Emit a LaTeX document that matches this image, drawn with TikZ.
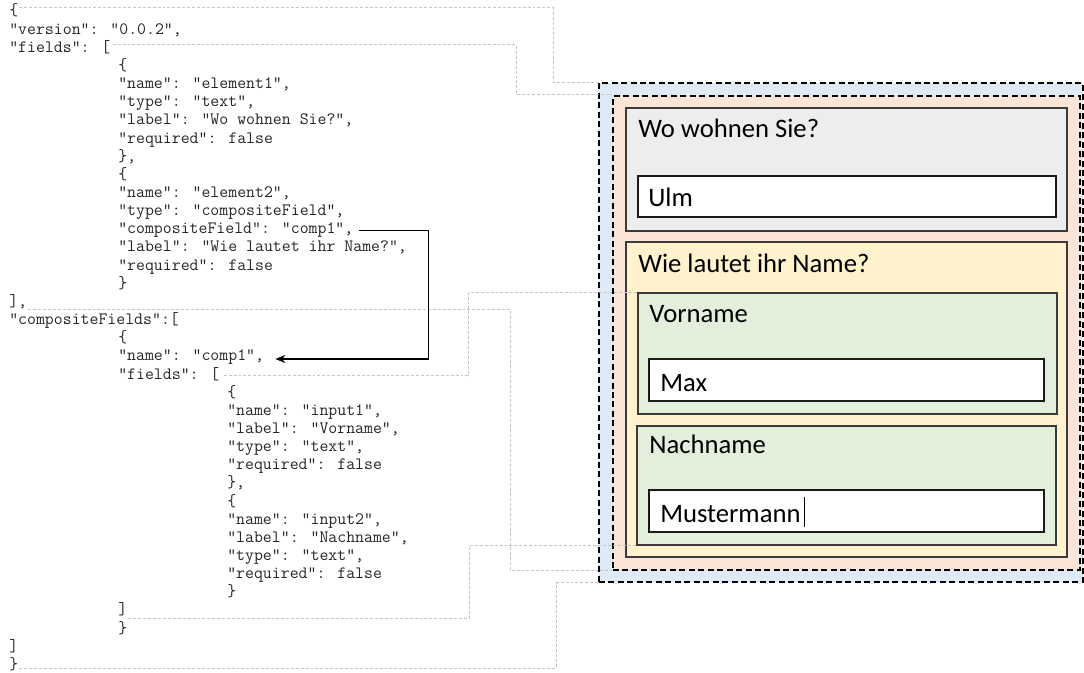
\documentclass[tikz,border=0pt]{standalone}
\usepackage{fontspec}
\setmainfont{Carlito}
\newfontfamily\formfont{Carlito}
\usetikzlibrary{arrows.meta,calc,fit}

\definecolor{formblue}{HTML}{DEEBF7}
\definecolor{areaorange}{HTML}{FBE5D6}
\definecolor{panelgray}{HTML}{EDEDED}
\definecolor{panelyellow}{HTML}{FFF2CC}
\definecolor{panelgreen}{HTML}{E2EFDA}
\definecolor{guidegray}{HTML}{C4C4C4}
\definecolor{edgedark}{HTML}{3A3A3A}

\tikzset{
  code/.style={anchor=base west, inner sep=0pt, text height=7pt, text depth=2pt,
    font=\ttfamily\fontsize{13pt}{15pt}\selectfont, text=black!85},
  formtext/.style={anchor=base west, inner sep=0pt,
    font=\formfont\fontsize{20pt}{24pt}\selectfont},
  dashedbox/.style={draw=black, line width=1.1pt, dash pattern=on 4.5pt off 2.6pt, inner sep=0pt},
  panel/.style={draw=edgedark, line width=1.1pt, inner sep=0pt},
  inputbox/.style={draw=black!90, fill=white, line width=1.3pt, inner sep=0pt},
  guide/.style={draw=guidegray, line width=0.75pt, dash pattern=on 2.2pt off 1.5pt},
  link/.style={draw=black, line width=1.1pt, -{Stealth[length=7.5pt,width=6pt]}},
}

% one line of the JSON listing: #1 line number, #2 indent level, #3 text
\newcommand\jsonline[3]{%
  \node[code] (L#1) at ({9+#2*109}, {16+(#1-1)*18.15}) {#3};}

\begin{document}
\begin{tikzpicture}[x=0.75pt, y=-0.75pt]
\useasboundingbox (0,0) rectangle (1084,673);

% ---- JSON definition ----
\jsonline{1}{0}{\{}
\jsonline{2}{0}{"version": "0.0.2",}
\jsonline{3}{0}{"fields": [}
\jsonline{4}{1}{\{}
\jsonline{5}{1}{"name": "element1",}
\jsonline{6}{1}{"type": "text",}
\jsonline{7}{1}{"label": "Wo wohnen Sie?",}
\jsonline{8}{1}{"required": false}
\jsonline{9}{1}{\},}
\jsonline{10}{1}{\{}
\jsonline{11}{1}{"name": "element2",}
\jsonline{12}{1}{"type": "compositeField",}
\jsonline{13}{1}{"compositeField": "comp1",}
\jsonline{14}{1}{"label": "Wie lautet ihr Name?",}
\jsonline{15}{1}{"required": false}
\jsonline{16}{1}{\}}
\jsonline{17}{0}{],}
\jsonline{18}{0}{"compositeFields":[}
\jsonline{19}{1}{\{}
\jsonline{20}{1}{"name": "comp1",}
\jsonline{21}{1}{"fields": [}
\jsonline{22}{2}{\{}
\jsonline{23}{2}{"name": "input1",}
\jsonline{24}{2}{"label": "Vorname",}
\jsonline{25}{2}{"type": "text",}
\jsonline{26}{2}{"required": false}
\jsonline{27}{2}{\},}
\jsonline{28}{2}{\{}
\jsonline{29}{2}{"name": "input2",}
\jsonline{30}{2}{"label": "Nachname",}
\jsonline{31}{2}{"type": "text",}
\jsonline{32}{2}{"required": false}
\jsonline{33}{2}{\}}
\jsonline{34}{1}{]}
\jsonline{35}{1}{\}}
\jsonline{36}{0}{]}
\jsonline{37}{0}{\}}

% ---- rendered form ----
\node[dashedbox, fill=formblue, fit={(599,83)(1083,582)}] (form) {};
\node[dashedbox, fill=areaorange, fit={(613,96)(1080,570)}] (area) {};

\node[panel, fill=panelgray, fit={(626,108)(1067,231)}] (wohnort) {};
\node[formtext] (qwohnort) at (638,138) {Wo wohnen Sie?};
\node[inputbox, fit={(638,176)(1056,217)}] (inwohnort) {};
\node[formtext] (vwohnort) at (648,207) {Ulm};

\node[panel, fill=panelyellow, fit={(626,242)(1067,557)}] (name) {};
\node[formtext] (qname) at (638,273) {Wie lautet ihr Name?};

\node[panel, fill=panelgreen, fit={(638,293)(1057,414)}] (vorname) {};
\node[formtext] (qvorname) at (649,323) {Vorname};
\node[inputbox, fit={(649,359)(1044,401)}] (invorname) {};
\node[formtext] (vvorname) at (660,391) {Max};

\node[panel, fill=panelgreen, fit={(637,426)(1056,545)}] (nachname) {};
\node[formtext] (qnachname) at (649,453) {Nachname};
\node[inputbox, fit={(649,490)(1044,532)}] (innachname) {};
\node[formtext] (vnachname) at (660,522) {Mustermann};
% text caret
\draw[line width=0.8pt] ($(vnachname.base east)+(4,5)$) -- ++(0,-30);

% ---- guides from the listing to the form ----
\draw[guide] ($(L1.east)+(1,-4.7)$) -| ($(form.north west)+(-45,0)$) -- (form.north west);
\draw[guide] ($(L3.east)+(2,-4)$) -| ($(area.north west)+(-96,-1)$) -- ($(area.north west)+(0,-1)$);
\draw[guide] ($(L17.east)+(1,6)$) -| ($(area.south west)+(-102,0)$) -- (area.south west);
\draw[guide] ($(L37.east)+(1,2)$) -| ($(form.south west)+(-42,0)$) -- (form.south west);
\draw[guide] ($(L21.east)+(4,0)$) -| ($(vorname.north west)+(-169,0)$) -- (vorname.north west);
\draw[guide] ($(L34.east)+(1,7)$) -| ($(nachname.south west)+(-167,0)$) -- (nachname.south west);

% ---- reference from element2 to comp1 ----
\coordinate (turn) at ($(L20.east)+(164,1.5)$);
\draw[link] ($(L13.east)+(5,0)$) -| (turn) -- ($(L20.east)+(11,1.5)$);

\end{tikzpicture}
\end{document}
